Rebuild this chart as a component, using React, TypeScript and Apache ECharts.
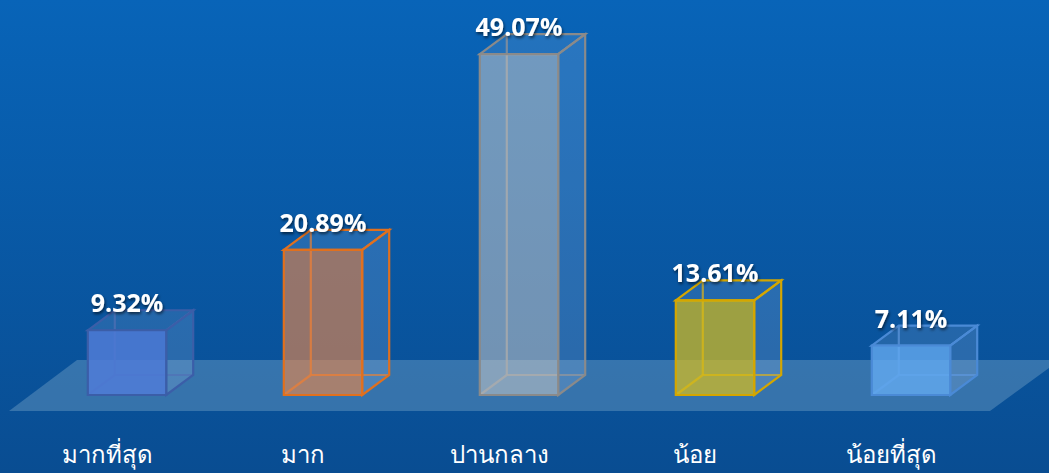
import React, { useEffect, useRef } from "react";
import * as echarts from "echarts";

const categories = ["มากที่สุด", "มาก", "ปานกลาง", "น้อย", "น้อยที่สุด"];
const values = [9.32, 20.89, 49.07, 13.61, 7.11];
const faceColors = ["rgba(80,125,215,0.85)", "rgba(235,135,75,0.62)", "rgba(200,200,200,0.55)", "rgba(215,190,30,0.72)", "rgba(100,170,240,0.8)"];
const edgeColors = ["#3b5ea8", "#e0701e", "#8a8a8a", "#d4a600", "#4a8ad6"];

export default function App() {
  const ref = useRef<HTMLDivElement>(null);
  useEffect(() => {
    const chart = echarts.init(ref.current!, null, { renderer: "svg" });
    const DX = 27, DY = -20;
    chart.setOption({
      animation: false,
      backgroundColor: new echarts.graphic.LinearGradient(0, 0, 0, 1, [
        { offset: 0, color: "#0864b8" },
        { offset: 1, color: "#094d92" },
      ]),
      grid: { left: 29, right: 40, top: 13, bottom: 78 },
      graphic: [
        {
          type: "polygon",
          z: 0,
          shape: { points: [[9, 411], [77, 360], [1060, 360], [990, 411]] },
          style: { fill: "rgba(140,180,210,0.35)" },
        },
      ],
      xAxis: {
        type: "category",
        data: categories,
        axisLine: { show: false },
        axisTick: { show: false },
        axisLabel: {
          color: "#ffffff",
          fontSize: 24,
          margin: 46,
          padding: [0, 40, 0, 0],
          fontFamily: "'Noto Sans', 'DejaVu Sans', sans-serif",
        },
      },
      yAxis: { type: "value", min: 0, max: 55, show: false, splitLine: { show: false } },
      series: [
        {
          type: "custom",
          z: 5,
          data: values.map((v, i) => [i, v]),
          renderItem: (params: any, api: any) => {
            const idx = api.value(0);
            const val = api.value(1);
            const base = api.coord([idx, 0]);
            const top = api.coord([idx, val]);
            const w = api.size([1, 0])[0] * 0.4;
            const x0 = base[0] - w / 2;
            const x1 = base[0] + w / 2;
            const yb = base[1];
            const yt = top[1];
            const edge = edgeColors[params.dataIndex];
            const face = faceColors[params.dataIndex];
            const lw = 2.2;
            const ln = (a: number[], b: number[]) => ({
              type: "line",
              shape: { x1: a[0], y1: a[1], x2: b[0], y2: b[1] },
              style: { stroke: edge, lineWidth: lw, opacity: 0.8 },
            });
            return {
              type: "group",
              children: [
                ln([x0 + DX, yb + DY], [x0 + DX, yt + DY]),
                ln([x0 + DX, yb + DY], [x1 + DX, yb + DY]),
                ln([x0, yb], [x0 + DX, yb + DY]),
                {
                  type: "polygon",
                  shape: { points: [[x1, yt], [x1 + DX, yt + DY], [x1 + DX, yb + DY], [x1, yb]] },
                  style: { fill: "rgba(160,190,230,0.22)", stroke: edge, lineWidth: lw },
                },
                {
                  type: "polygon",
                  shape: { points: [[x0, yt], [x0 + DX, yt + DY], [x1 + DX, yt + DY], [x1, yt]] },
                  style: { fill: "rgba(160,190,230,0.18)", stroke: edge, lineWidth: lw },
                },
                {
                  type: "rect",
                  shape: { x: x0, y: yt, width: w, height: yb - yt },
                  style: { fill: face, stroke: edge, lineWidth: lw },
                },
                {
                  type: "text",
                  x: base[0],
                  y: yt - 28,
                  style: {
                    text: val.toFixed(2) + "%",
                    fill: "#ffffff",
                    font: "bold 25px 'Open Sans', 'Noto Sans', sans-serif",
                    align: "center",
                    verticalAlign: "middle",
                    textShadowColor: "rgba(0,0,0,0.6)",
                    textShadowBlur: 3,
                    textShadowOffsetX: 1,
                    textShadowOffsetY: 2,
                  },
                },
              ],
            };
          },
        },
      ],
    });
    return () => chart.dispose();
  }, []);
  return <div ref={ref} style={{ position: "fixed", left: 0, top: 0, width: 1049, height: 473 }} />;
}
